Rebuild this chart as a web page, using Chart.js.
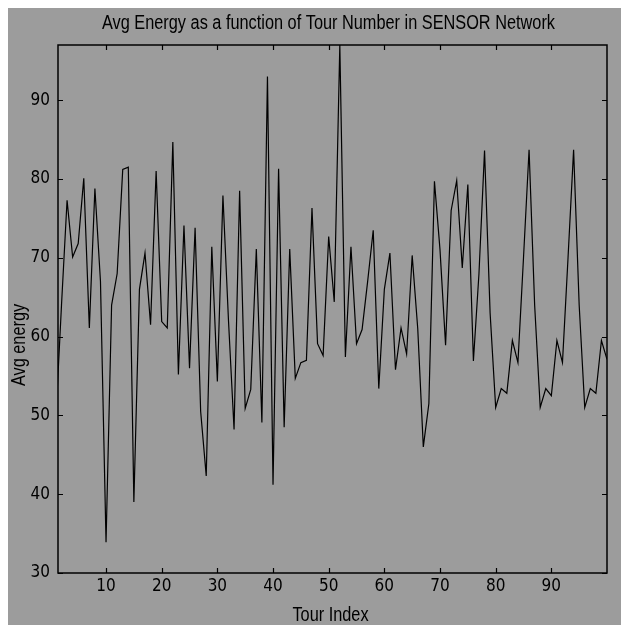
<!DOCTYPE html>
<html>
<head>
<meta charset="utf-8">
<script src="https://cdn.jsdelivr.net/npm/chart.js@4.4.1/dist/chart.umd.min.js"></script>
<style>
  body { margin: 8px; background: #fff; overflow: hidden; }
  #wrap { width: 621px; height: 617px; background: #9c9c9c; }
</style>
</head>
<body>
<div id="wrap"><canvas id="energyChart" width="621" height="617"></canvas></div>
<script>
// Avg energy per tour
const tourIndex = Array.from({ length: 100 }, (_, i) => i + 1);
const avgEnergy = [
    50, 64, 77.3, 70.1, 71.8, 80.1, 61.1, 78.8, 67, 33.9,
    64, 68, 81.2, 81.5, 39, 66, 70.6, 61.5, 81, 61.9,
    61.1, 84.7, 55.2, 74.1, 56, 73.8, 50.5, 42.3, 71.4, 54.3,
    77.9, 62, 48.2, 78.5, 50.9, 53.3, 71.1, 49.1, 93, 41.2,
    81.3, 48.5, 71.1, 54.7, 56.7, 57, 76.3, 59.1, 57.6, 72.7,
    64.4, 97, 57.4, 71.4, 59.1, 60.9, 67, 73.5, 53.4, 66,
    70.6, 55.8, 61.1, 57.8, 70.3, 61, 46, 51.5, 79.7, 71,
    58.9, 76, 79.8, 68.7, 79.3, 56.9, 68, 83.6, 63, 51,
    53.4, 52.8, 59.5, 56.7, 70, 83.7, 64, 51, 53.4, 52.5,
    59.5, 56.7, 70, 83.7, 64, 51, 53.4, 52.8, 59.5, 57.1
];
const xTicks = [10, 20, 30, 40, 50, 60, 70, 80, 90];
const yTicks = [30, 40, 50, 60, 70, 80, 90];

const titleText = 'Avg Energy as a function of Tour Number in SENSOR Network';
const xLabel = 'Tour Index';
const yLabel = 'Avg energy';

const TICK_FONT = '"DejaVu Sans Condensed", "Liberation Sans", sans-serif';
const LABEL_FONT = '20px "Liberation Sans", Arial, sans-serif';

// matlab's helvetica is narrow, so squeeze the labels a bit
function drawNarrow(ctx, text, x, y, rot, sx) {
    ctx.save();
    ctx.translate(x, y);
    ctx.rotate(rot);
    ctx.scale(sx, 1);
    ctx.textAlign = 'center';
    ctx.textBaseline = 'alphabetic';
    ctx.fillText(text, 0, 0);
    ctx.restore();
}

// matlab style box with inward ticks on all four sides, plus the labels
const axesBox = {
    id: 'axesBox',
    afterDatasetsDraw(chart) {
        const ctx = chart.ctx;
        const { left, right, top, bottom } = chart.chartArea;
        const len = 5;
        ctx.save();
        ctx.strokeStyle = '#000';
        ctx.lineWidth = 1.5;
        ctx.strokeRect(left, top, right - left, bottom - top);
        ctx.lineWidth = 1.2;
        ctx.beginPath();
        xTicks.forEach(v => {
            const px = Math.round(chart.scales.x.getPixelForValue(v)) + 0.5;
            ctx.moveTo(px, bottom); ctx.lineTo(px, bottom - len);
            ctx.moveTo(px, top); ctx.lineTo(px, top + len);
        });
        yTicks.forEach(v => {
            const py = Math.round(chart.scales.y.getPixelForValue(v)) + 0.5;
            ctx.moveTo(left, py); ctx.lineTo(left + len, py);
            ctx.moveTo(right, py); ctx.lineTo(right - len, py);
        });
        ctx.stroke();

        ctx.fillStyle = '#000';
        ctx.font = LABEL_FONT;
        const sx = 453 / ctx.measureText(titleText).width;
        drawNarrow(ctx, titleText, (left + right) / 2 - 4, 20.5, 0, sx);
        drawNarrow(ctx, xLabel, (left + right) / 2 - 2, 613, 0, sx);
        drawNarrow(ctx, yLabel, 17, 337, -Math.PI / 2, sx);
        ctx.restore();
    }
};

new Chart(document.getElementById('energyChart').getContext('2d'), {
    type: 'line',
    data: {
        datasets: [{
            data: avgEnergy.map((v, i) => ({ x: tourIndex[i], y: v })),
            borderColor: '#000',
            borderWidth: 1.2,
            pointRadius: 0,
            tension: 0,
            fill: false
        }]
    },
    options: {
        responsive: false,
        animation: false,
        devicePixelRatio: 1,
        layout: { padding: { left: 0, right: 22, top: 37, bottom: 0 } },
        plugins: {
            legend: { display: false },
            tooltip: { enabled: false },
            title: { display: false }
        },
        scales: {
            x: {
                type: 'linear',
                min: 1.37,
                max: 100,
                afterFit: s => { s.height = 52; },
                afterBuildTicks: s => { s.ticks = xTicks.map(v => ({ value: v })); },
                grid: { display: false, drawTicks: false },
                border: { display: false },
                ticks: { color: '#000', padding: 3, maxRotation: 0, font: { family: TICK_FONT, size: 17 } }
            },
            y: {
                min: 30,
                max: 97,
                afterFit: s => { s.width = 50; },
                afterBuildTicks: s => { s.ticks = yTicks.map(v => ({ value: v })); },
                grid: { display: false, drawTicks: false },
                border: { display: false },
                ticks: { color: '#000', padding: 8, font: { family: TICK_FONT, size: 17 } }
            }
        }
    },
    plugins: [axesBox]
});
</script>
</body>
</html>
